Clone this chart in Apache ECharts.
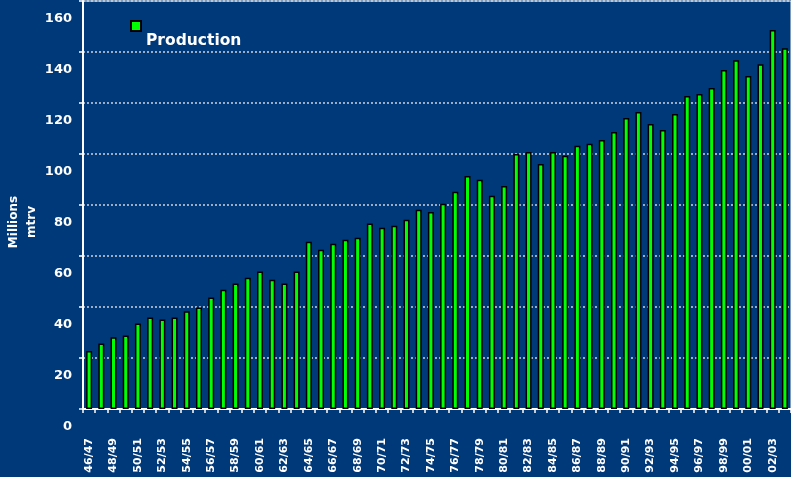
<!DOCTYPE html>
<html>
	<head>
		<meta charset="UTF-8">
		<title>Production</title>
		<script src="https://cdn.jsdelivr.net/npm/echarts@6/dist/echarts.min.js"></script>
		<style type="text/css">
			html, body {
				margin: 0;
				padding: 0;
				background: #00397a;
			}
			#chart {
				width: 791px;
				height: 477px;
			}
		</style>
	</head>
	<body>
		<div id="chart"></div>
		<script type="text/javascript">
			var years = ['46/47', '47/48', '48/49', '49/50', '50/51', '51/52', '52/53', '53/54', '54/55', '55/56',
				'56/57', '57/58', '58/59', '59/60', '60/61', '61/62', '62/63', '63/64', '64/65', '65/66',
				'66/67', '67/68', '68/69', '69/70', '70/71', '71/72', '72/73', '73/74', '74/75', '75/76',
				'76/77', '77/78', '78/79', '79/80', '80/81', '81/82', '82/83', '83/84', '84/85', '85/86',
				'86/87', '87/88', '88/89', '89/90', '90/91', '91/92', '92/93', '93/94', '94/95', '95/96',
				'96/97', '97/98', '98/99', '99/00', '00/01', '01/02', '02/03', '03/04'];
			var production = [22.7, 25.7, 28.1, 28.8, 33.5, 35.9, 35.1, 35.9, 38.3, 39.8,
				43.7, 46.8, 49.2, 51.5, 53.9, 50.7, 49.2, 53.9, 65.6, 62.5,
				64.8, 66.4, 67.2, 72.7, 71.1, 71.9, 74.2, 78.1, 77.3, 80.5,
				85.2, 91.4, 89.9, 83.6, 87.5, 100.0, 100.8, 96.1, 100.8, 99.3,
				103.2, 104.0, 105.5, 108.6, 114.1, 116.5, 111.8, 109.4, 115.7, 122.7,
				123.5, 125.9, 132.9, 136.8, 130.6, 135.2, 148.6, 141.5];
			var yTicks = [0, 160, 20]; // min, max, step

			var chart = echarts.init(document.getElementById('chart'));
			var option = {
				backgroundColor: '#00397a',
				animation: false,
				grid: {
					left: 83,
					right: -5,
					top: 1,
					height: 408,
					show: true,
					borderColor: '#ffffff',
					borderWidth: 1,
					backgroundColor: 'transparent'
				},
				legend: {
					left: 130,
					top: 20,
					padding: 0,
					itemWidth: 10,
					itemHeight: 10,
					icon: 'rect',
					itemStyle: { color: '#00ff00', borderColor: '#000000', borderWidth: 2 },
					data: ['Production'],
					formatter: '{p|{name}}',
					textStyle: {
						color: '#ffffff',
						rich: {
							p: {
								color: '#ffffff',
								fontFamily: 'DejaVu Sans',
								fontWeight: 'bold',
								fontSize: 15.5,
								padding: [30, 0, 0, 0]
							}
						}
					}
				},
				graphic: [{
					type: 'text',
					x: 23,
					y: 222,
					rotation: Math.PI / 2,
					style: {
						text: 'Millions\nmtrv',
						fill: '#ffffff',
						font: 'bold 12px "DejaVu Sans"',
						lineHeight: 18,
						align: 'center',
						verticalAlign: 'middle'
					}
				}],
				xAxis: {
					type: 'category',
					data: years,
					axisLine: { lineStyle: { color: '#ffffff', width: 2 } },
					axisTick: { show: true, interval: 0, length: 4, lineStyle: { color: '#ffffff', width: 1.5 } },
					axisLabel: {
						interval: 1,
						rotate: 90,
						margin: 29,
						color: '#ffffff',
						fontFamily: 'DejaVu Sans',
						fontWeight: 'bold',
						fontSize: 11
					}
				},
				yAxis: {
					type: 'value',
					min: yTicks[0],
					max: yTicks[1],
					interval: yTicks[2],
					axisLine: { show: true, lineStyle: { color: '#ffffff', width: 2 } },
					axisTick: { show: true, length: 4, lineStyle: { color: '#ffffff', width: 1.5 } },
					axisLabel: {
						margin: 11,
						formatter: '{v|{value}}',
						rich: {
							v: {
								color: '#ffffff',
								fontFamily: 'DejaVu Sans',
								fontWeight: 'bold',
								fontSize: 13,
								padding: [36, 0, 0, 0]
							}
						}
					},
					splitLine: {
						show: true,
						lineStyle: { color: '#d0d4dc', width: 1.5, type: [2, 2] }
					}
				},
				series: [{
					name: 'Production',
					type: 'bar',
					data: production,
					barWidth: 6,
					itemStyle: {
						color: '#00ff00',
						borderColor: '#000000',
						borderWidth: 1.5
					}
				}]
			};
			chart.setOption(option);
		</script>
	</body>
</html>
